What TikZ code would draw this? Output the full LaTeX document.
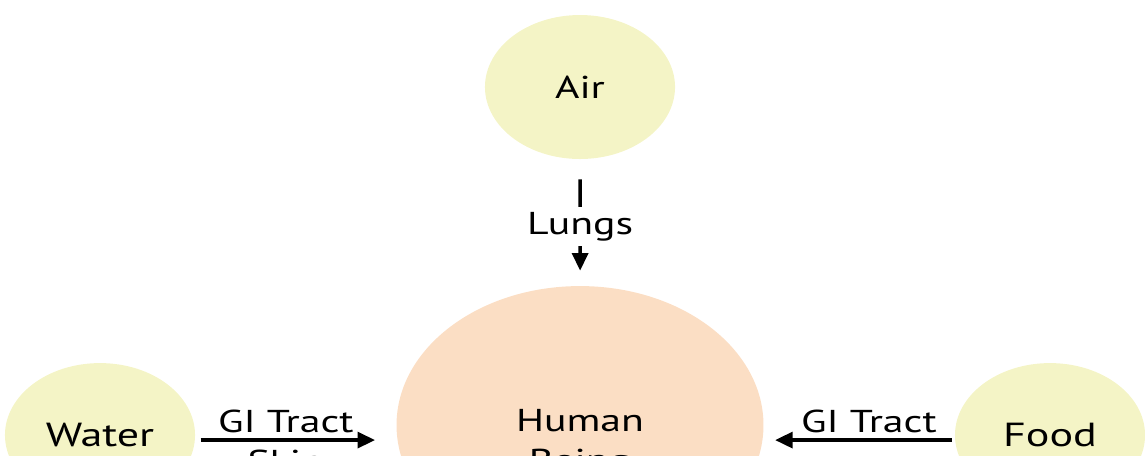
\documentclass[tikz,border=0pt]{standalone}
\usepackage{fontspec}
\setmainfont{PT Sans}
\usetikzlibrary{arrows.meta}
\definecolor{srcyellow}{RGB}{244,244,198}
\definecolor{bodypeach}{RGB}{251,222,196}

\begin{document}
\begin{tikzpicture}[
  x=0.015152cm, y=-0.02cm, xscale=1.32, transform shape,
  source/.style={circle, fill=srcyellow, minimum size=2.88cm, inner sep=0pt,
    font=\fontsize{19}{22}\selectfont},
  body/.style={circle, fill=bodypeach, minimum size=5.56cm, inner sep=0pt},
  route/.style={font=\fontsize{18}{22}\selectfont, inner sep=3pt},
  arrow/.style={-{Triangle[length=10pt, width=9pt]}, line width=2pt, color=black}
]
\useasboundingbox (0,0) rectangle (1145,455);
\clip (0,0) rectangle (1145,455);

\node[body] (human) at (580,425) {};
\node[route, inner sep=0pt, anchor=north, align=center,
  font=\fontsize{18}{22.7}\selectfont] (humanlbl) at (580,409) {Human\\Being};

\node[source, font=\fontsize{18}{22}\selectfont] (air) at (580,87) {Air};
\node[source] (water) at (100,435) {Water};
\node[source] (food) at (1050,435) {Food};

\draw[arrow, shorten <=0.4cm, shorten >=0.3cm] (air) --
  node[route, fill=white, pos=0.53] (lungs) {Lungs} (human);

\draw[arrow, shorten <=0.1cm, shorten >=0.42cm]
  ([yshift=-0.1cm]water.east) -- ([yshift=-0.1cm]water.east -| human.west)
  node[route, pos=0.45, above] (gileft) {GI Tract}
  node[route, pos=0.45, below, yshift=-0.06cm] (skin) {Skin};

\draw[arrow, shorten <=0.06cm, shorten >=0.22cm]
  ([yshift=-0.1cm]food.west) -- ([yshift=-0.1cm]food.west -| human.east)
  node[route, pos=0.45, above] (giright) {GI Tract};
\end{tikzpicture}
\end{document}
